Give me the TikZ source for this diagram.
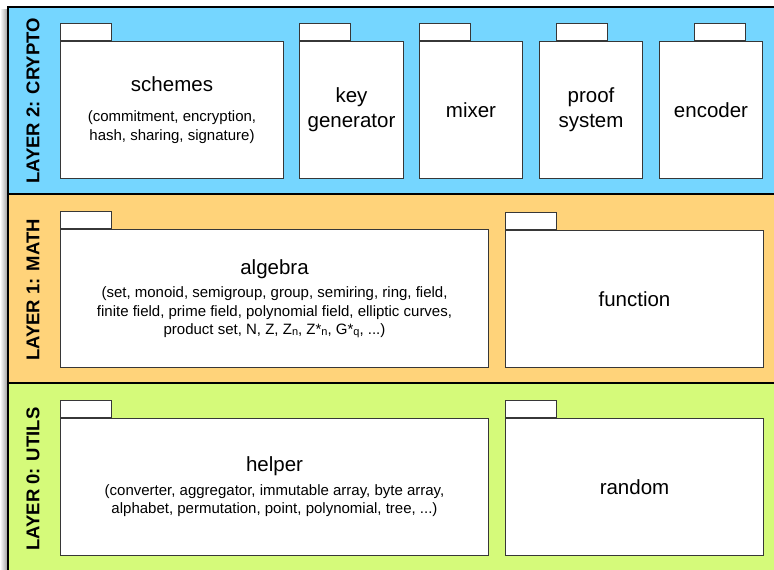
\documentclass[tikz,border=0pt]{standalone}
\usepackage{fontspec}
\setmainfont{Liberation Sans}
\usetikzlibrary{positioning}

\definecolor{cryptoblue}{RGB}{117,214,255}
\definecolor{mathorange}{RGB}{255,211,122}
\definecolor{utilsgreen}{RGB}{213,250,122}
\definecolor{pkgline}{RGB}{55,55,55}

\tikzset{
    layername/.style={rotate=90, font=\fontsize{18.5}{20}\selectfont\bfseries},
    pkgbody/.style={draw=pkgline, fill=white, line width=1pt, anchor=north west,
        inner sep=0pt, align=center, minimum height=137pt,
        font=\fontsize{15}{18.5}\selectfont},
    pkgtab/.style={draw=pkgline, fill=white, line width=1pt, anchor=south west,
        minimum width=51pt, minimum height=17pt, inner sep=0pt},
}
\newcommand{\pkgtitle}[1]{{\fontsize{20.5}{25}\selectfont #1}}
\newcommand{\low}[1]{\raisebox{-1pt}{\fontsize{11}{12}\selectfont #1}}

\begin{document}
\begin{tikzpicture}[x=1pt, y=-1pt]
            \useasboundingbox (0,0) rectangle (774,570);

            % layers
            \shade[left color=white, right color=black!40] (0,9) rectangle (8,570);
            \fill[cryptoblue] (8,7) rectangle (774,194);
            \fill[mathorange] (8,194) rectangle (774,383);
            \fill[utilsgreen] (8,383) rectangle (774,570);
            \draw[line width=2pt] (8,575) -- (8,7) -- (780,7);
            \draw[line width=2pt] (8,194) -- (780,194);
            \draw[line width=2pt] (8,383) -- (780,383);

            \node[layername] (crypto) at (33, 101) {LAYER 2: CRYPTO};
            \node[layername] (math) at (33, 290) {LAYER 1: MATH};
            \node[layername] (utils) at (33, 479) {LAYER 0: UTILS};

            % layer 2
            \node[pkgbody, minimum width=223pt] (schemes) at (60, 41)
                {\pkgtitle{schemes}\\[12pt](commitment, encryption,\\hash, sharing, signature)};
            \node[pkgbody, minimum width=104pt] (keygen) at (299, 41)
                {\pkgtitle{key}\\[6.5pt]\pkgtitle{generator}};
            \node[pkgbody, minimum width=103pt] (mixer) at (419, 41) {\pkgtitle{mixer}};
            \node[pkgbody, minimum width=103pt] (proof) at (539, 41)
                {\pkgtitle{proof}\\[6.5pt]\pkgtitle{system}};
            \node[pkgbody, minimum width=103pt] (encoder) at (659, 41) {\pkgtitle{encoder}};

            \node[pkgtab] (schemes tab) at (schemes.north west) {};
            \node[pkgtab] (keygen tab) at (keygen.north west) {};
            \node[pkgtab] (mixer tab) at (mixer.north west) {};
            \node[pkgtab, xshift=17pt] (proof tab) at (proof.north west) {};
            \node[pkgtab, xshift=35pt] (encoder tab) at (encoder.north west) {};

            % layer 1
            \node[pkgbody, minimum width=428pt, minimum height=138pt] (algebra) at (60, 229)
                {\pkgtitle{algebra}\\[5pt](set, monoid, semigroup, group, semiring, ring, field,\\
                finite field, prime field, polynomial field, elliptic curves,\\
                product set, N, Z, Z\low{n}, Z*\low{n}, G*\low{q}, ...)};
            \node[pkgbody, minimum width=258pt] (function) at (505, 230) {\pkgtitle{function}};

            \node[pkgtab] (algebra tab) at (algebra.north west) {};
            \node[pkgtab] (function tab) at (function.north west) {};

            % layer 0
            \node[pkgbody, minimum width=428pt] (helper) at (60, 418)
                {\pkgtitle{helper}\\[5pt](converter, aggregator, immutable array, byte array,\\
                alphabet, permutation, point, polynomial, tree, ...)};
            \node[pkgbody, minimum width=258pt] (random) at (505, 418) {\pkgtitle{random}};

            \node[pkgtab] (helper tab) at (helper.north west) {};
            \node[pkgtab] (random tab) at (random.north west) {};
\end{tikzpicture}
\end{document}
